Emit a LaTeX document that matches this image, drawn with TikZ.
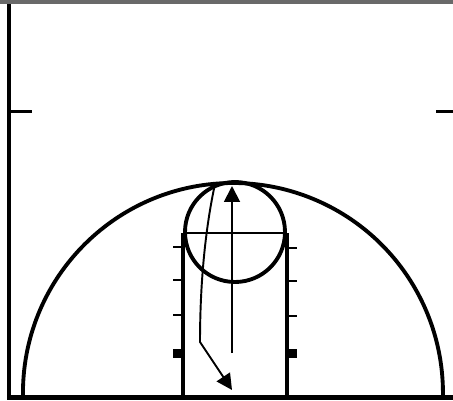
\documentclass[tikz,border=0pt]{standalone}
\usepackage{tikz}
\usetikzlibrary{arrows.meta}
\definecolor{bandgray}{RGB}{105,105,105}

\begin{document}
\begin{tikzpicture}[x=0.02cm, y=-0.02cm,
    courtline/.style={line width=2.2pt},
    lanetick/.style={line width=1.2pt},
    laneblock/.style={fill=black},
    move/.style={line width=1.1pt, -{Triangle[length=9pt, width=9pt]}}]
            \useasboundingbox (0,0) rectangle (453,400);

            % Top band and sideline
            \fill[bandgray] (0,0) rectangle (453,4);
            \draw[courtline, line width=2.4pt] (9,4) -- (9,400);
            \draw[courtline, line width=2.4pt] (7,397.5) -- (453,397.5);

            % Half-court marks
            \draw[courtline, line width=1.8pt] (9,111.5) -- (32,111.5);
            \draw[courtline, line width=1.8pt] (436,111.5) -- (453,111.5);

            % Three-point arc
            \draw[courtline] (23,397) arc[start angle=178.9, end angle=361.1, radius=210];

            % Lane and free throw circle
            \draw[courtline] (183,397) -- (183,233);
            \draw[courtline] (287,397) -- (287,233);
            \draw[lanetick] (183,233) -- (287,233);
            \draw[courtline] (235,232) circle[radius=50];

            % Lane marks
            \foreach \ty in {247,280,315} {
                \draw[lanetick] (173,\ty) -- (183,\ty);
                \draw[lanetick] (287,\ty+1) -- (297,\ty+1);
            }
            \fill[laneblock] (173,349) rectangle (182,358);
            \fill[laneblock] (288,349) rectangle (297,358);

            % Player movement
            \coordinate (popstart) at (232,353);
            \coordinate (popend) at (232,186);
            \coordinate (cutstart) at (215,184);
            \coordinate (cutbend) at (200,342);
            \coordinate (cutend) at (232,390);
            \draw[move] (popstart) -- (popend);
            \draw[move] (cutstart) .. controls (205,230) and (200,285) .. (cutbend) -- (cutend);
        \end{tikzpicture}
\end{document}
